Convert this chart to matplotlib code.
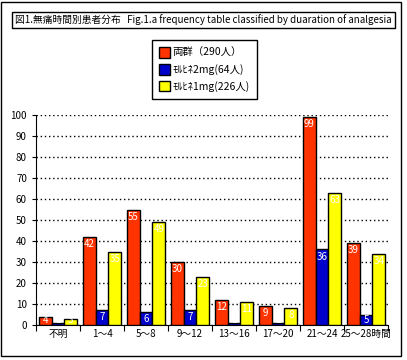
import matplotlib
matplotlib.use('Agg')
import matplotlib.pyplot as plt
import numpy as np
from matplotlib.patches import Rectangle

plt.rcParams['font.family'] = ['Noto Sans CJK JP', 'DejaVu Sans']

# data
categories = ['不明', '1～4', '5～8', '9～12', '13～16', '17～20', '21～24', '25～28時間']
both = [4, 42, 55, 30, 12, 9, 99, 39]
mor2 = [1, 7, 6, 7, 1, 1, 36, 5]
mor1 = [3, 35, 49, 23, 11, 8, 63, 34]
series_names = ['両群（290人）', 'ﾓﾙﾋﾈ2mg(64人)', 'ﾓﾙﾋﾈ1mg(226人)']
colors = ['#FF3300', '#0000CC', '#FFFF00']
title = '図1.無痛時間別患者分布   Fig.1.a frequency table classified by duaration of analgesia'

W, H = 407, 360
fig = plt.figure(figsize=(W / 100, H / 100), dpi=100)

# outer border
fig.patches.append(Rectangle((1 / W, 1 - 356 / H), 400 / W, 354 / H, transform=fig.transFigure,
                             fill=False, edgecolor='black', linewidth=1))

# title in a box
fig.text(15 / W, 1 - 20 / H, title, fontsize=7, va='center', ha='left',
         bbox=dict(boxstyle='square,pad=0.3', facecolor='white', edgecolor='black', linewidth=1))

ax = fig.add_axes([36 / W, 35 / H, 352 / W, 210 / H])

x = np.arange(len(categories))
bw = 0.29
for i, (vals, c) in enumerate(zip([both, mor2, mor1], colors)):
    bars = ax.bar(x + (i - 1) * bw, vals, bw, color=c, edgecolor='black', linewidth=1,
                  label=series_names[i], zorder=3)
    for xi, v, b in zip(x, vals, bars):
        if v >= 6:
            t = ax.text(xi + (i - 1) * bw, v - 1, str(v), ha='center', va='top', color='white',
                        fontsize=7, zorder=4)
        else:
            # too short for the label: only the part inside the bar shows
            t = ax.text(xi + (i - 1) * bw, 0, str(v), ha='center', va='bottom', color='white',
                        fontsize=7, zorder=4)
        t.set_clip_path(b)

ax.set_xlim(-0.5, len(categories) - 0.5)
ax.set_ylim(0, 100)
ax.set_yticks(np.arange(0, 101, 10))
ax.tick_params(axis='y', labelsize=7, length=3, direction='out')
ax.set_xticks(np.arange(-0.5, len(categories), 1))
ax.set_xticklabels([])
ax.set_xticks(x, minor=True)
ax.set_xticklabels(categories, minor=True)
ax.tick_params(axis='x', which='minor', length=0, labelsize=7, pad=3)
ax.tick_params(axis='x', which='major', length=4, direction='out')
ax.grid(axis='y', color='black', linestyle=(0, (1, 2)), linewidth=1, zorder=0)
for s in ['top', 'right']:
    ax.spines[s].set_visible(False)

fig.legend(loc='upper left', bbox_to_anchor=(152 / W, 1 - 40 / H), fontsize=7.5,
           frameon=True, fancybox=False, edgecolor='black', framealpha=1,
           handlelength=1.0, handleheight=1.2, handletextpad=0.3, labelspacing=0.55,
           borderpad=0.7, borderaxespad=0)

fig.savefig('out.png', dpi=100)
